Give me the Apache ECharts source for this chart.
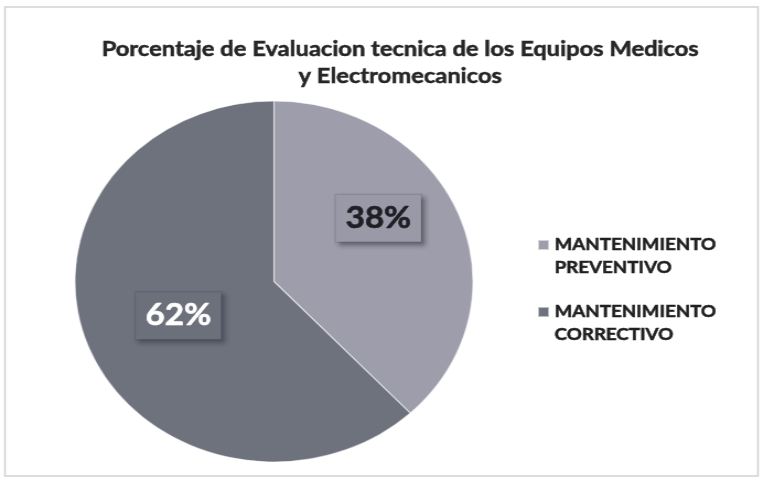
<!DOCTYPE html>
<html>
<head>
<meta charset="utf-8">
<title>Porcentaje de Evaluacion tecnica</title>
<script src="https://cdn.jsdelivr.net/npm/echarts@6/dist/echarts.min.js"></script>
<style>
  html, body { margin: 0; padding: 0; background: #ffffff; overflow: hidden; }
  /* the chart is laid out on a narrower canvas and widened, which gives the oval pie */
  #chart { width: 692px; height: 484px; transform: scaleX(1.1025); transform-origin: 0 0; }
</style>
</head>
<body>
<div id="chart"></div>
<script>
// Data
const categories = ['MANTENIMIENTO\nPREVENTIVO', 'MANTENIMIENTO\nCORRECTIVO'];
const percentages = [38, 62];
const sliceColors = ['#9e9dab', '#6e727d'];
const labelColors = ['#1e1e24', '#ffffff'];

const chart = echarts.init(document.getElementById('chart'));

const pieData = categories.map((name, i) => ({
  name: name,
  value: percentages[i],
  itemStyle: { color: sliceColors[i] },
  label: {
    color: labelColors[i],
    textBorderColor: labelColors[i],
    textBorderWidth: 0.6,
    backgroundColor: i === 0 ? '#9a99a7' : '#6c707b',
    borderColor: i === 0 ? 'rgba(120,120,130,0.5)' : 'rgba(90,95,120,0.6)',
    borderWidth: 1,
    shadowColor: 'rgba(40,40,50,0.45)',
    shadowBlur: 4,
    shadowOffsetX: 3,
    shadowOffsetY: 3
  }
}));

chart.setOption({
  backgroundColor: '#ffffff',
  animation: false,
  title: {
    text: 'Porcentaje de Evaluacion tecnica de los Equipos Medicos\ny Electromecanicos',
    left: 358,
    top: 31,
    textAlign: 'center',
    textStyle: {
      fontFamily: 'Lato',
      fontWeight: 'bold',
      fontSize: 21.5,
      lineHeight: 27,
      color: '#262626',
      textBorderColor: '#262626',
      textBorderWidth: 0.5
    }
  },
  legend: {
    orient: 'vertical',
    left: 482,
    top: 205.5,
    itemWidth: 10,
    itemHeight: 10,
    itemGap: -2,
    icon: 'rect',
    data: categories.map((name, i) => ({ name: name, itemStyle: { color: sliceColors[i] } })),
    // a leading empty line keeps the swatch level with the first line of each name
    formatter: function (name) { return '\n' + name; },
    textStyle: {
      fontFamily: 'Lato',
      fontWeight: 'bold',
      fontSize: 17,
      lineHeight: 23,
      color: '#1f1f1f',
      textBorderColor: '#1f1f1f',
      textBorderWidth: 0.5
    }
  },
  graphic: [{
    type: 'rect',
    shape: { x: 4.5, y: 7, width: 683, height: 469 },
    style: { fill: 'none', stroke: '#d2d2d2', lineWidth: 1.5 },
    silent: true,
    z: -1
  }],
  series: [{
    type: 'pie',
    center: [248.5, 281.5],
    radius: 180.5,
    startAngle: 90,
    clockwise: true,
    silent: true,
    itemStyle: { borderColor: 'rgba(255,255,255,0.55)', borderWidth: 1.2 },
    label: {
      show: true,
      position: 'inside',
      formatter: '{d}%',
      fontFamily: 'Lato',
      fontWeight: 'bold',
      fontSize: 30,
      padding: [9, 9, 8, 9]
    },
    labelLayout: function (params) {
      // the smaller slice keeps its label higher up in the slice
      if (params.dataIndex === 0) {
        return { dx: 8, dy: -29 };
      }
      return {};
    },
    labelLine: { show: false },
    emphasis: { disabled: true },
    data: pieData
  }]
});
</script>
</body>
</html>
